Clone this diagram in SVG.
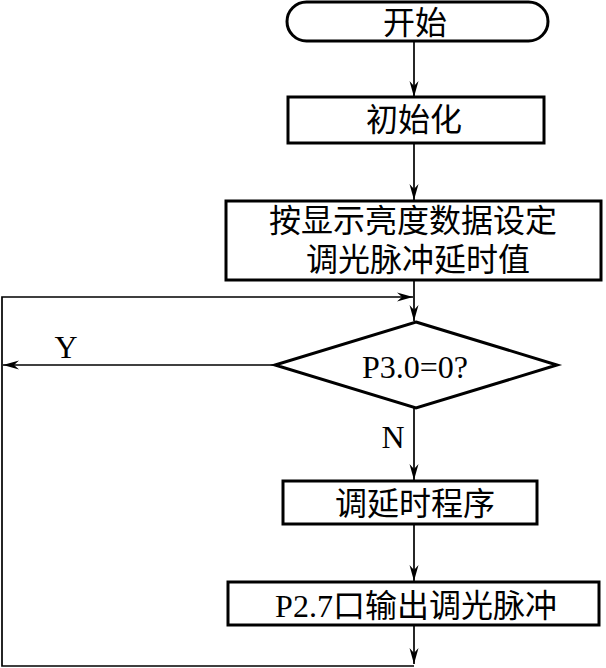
<svg xmlns="http://www.w3.org/2000/svg" width="606" height="668" viewBox="0 0 606 668">
<style>
.box{fill:#fff;stroke:#000;stroke-width:3}
.ln{fill:none;stroke:#000;stroke-width:1.7}
.cj{font-family:"Noto Sans CJK SC","Noto Sans CJK JP",sans-serif;font-size:32px;fill:#000;text-anchor:middle}
.lt{font-family:"Liberation Serif",serif;font-size:32px;fill:#000;text-anchor:middle}
</style>
<defs>
<marker id="ar" markerUnits="userSpaceOnUse" markerWidth="20" markerHeight="12" viewBox="-17 -6 19 12" refX="0" refY="0" orient="auto">
<path d="M0,0 L-16,-4.5 L-11,0 L-16,4.5 Z" fill="#000"/>
</marker>
</defs>
<g id="connectors">
<path class="ln" d="M414,42 V97" marker-end="url(#ar)"/>
<path class="ln" d="M414,143 V200" marker-end="url(#ar)"/>
<path class="ln" d="M414,280 V321" marker-end="url(#ar)"/>
<path class="ln" d="M414,408 V480" marker-end="url(#ar)"/>
<path class="ln" d="M414,524 V581" marker-end="url(#ar)"/>
<path class="ln" d="M414,626 V664" marker-end="url(#ar)"/>
<path class="ln" d="M414,666 H2 V297 H413" marker-end="url(#ar)"/>
<path class="ln" d="M275,365 H3" marker-end="url(#ar)"/>
<text class="lt" x="66" y="358">Y</text>
<text class="lt" x="393" y="448">N</text>
</g>
<g id="start">
<rect class="box" x="287" y="2" width="261" height="39" rx="19.5"/>
<text class="cj" x="415" y="34" font-size="30">开始</text>
</g>
<g id="init">
<rect class="box" x="288" y="97" width="256" height="46"/>
<text class="cj" x="414" y="131">初始化</text>
</g>
<g id="set">
<rect class="box" x="226" y="201" width="375" height="79"/>
<text class="cj" x="413" y="232" font-size="31">按显示亮度数据设定</text>
<text class="cj" x="418" y="271" font-size="31">调光脉冲延时值</text>
</g>
<g id="decision">
<polygon class="box" points="416,322 557,365 416,408 275,365"/>
<text class="lt" x="415" y="378">P3.0=0?</text>
</g>
<g id="delay">
<rect class="box" x="283" y="481" width="254" height="43"/>
<text class="cj" x="415" y="515">调延时程序</text>
</g>
<g id="output">
<rect class="box" x="228" y="582" width="371" height="43"/>
<text class="cj" x="416" y="617"><tspan font-family="Liberation Serif">P2.7</tspan>口输出调光脉冲</text>
</g>
</svg>
